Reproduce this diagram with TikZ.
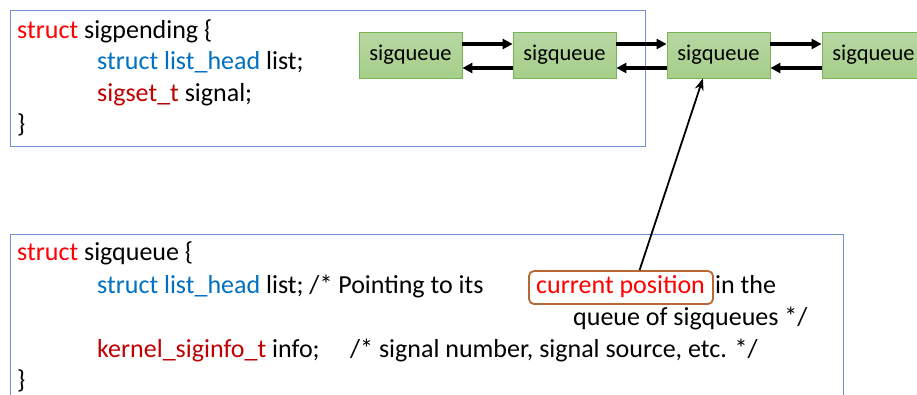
\documentclass[tikz,border=0pt]{standalone}
\usepackage{fontspec}
\setmainfont{Carlito}
\usetikzlibrary{arrows.meta,calc}
\definecolor{kwred}{RGB}{255,0,0}
\definecolor{kwblue}{RGB}{0,112,192}
\definecolor{kwdred}{RGB}{192,0,0}
\definecolor{frameblue}{RGB}{114,147,207}
\definecolor{qfill}{RGB}{165,206,137}
\definecolor{qfilltop}{RGB}{184,216,163}
\definecolor{qborder}{RGB}{122,180,84}
\definecolor{cpbrown}{RGB}{184,104,48}
\begin{document}
\begin{tikzpicture}[x=1pt,y=-1pt,
  txt/.style={anchor=base west,inner sep=0pt,font=\fontsize{26}{31}\selectfont},
  qbox/.style={draw=qborder,line width=0.8pt,top color=qfilltop,bottom color=qfill,minimum width=103pt,minimum height=46pt,inner sep=0pt,font=\fontsize{22.5}{27}\selectfont},
  frame/.style={draw=frameblue,line width=0.9pt},
  link/.style={line width=3.4pt,-{Triangle[length=10pt,width=10pt]}},
  cpbox/.style={draw=cpbrown,line width=1.8pt,rounded corners=5pt,minimum width=184pt,minimum height=33pt,inner sep=0pt}
]
\clip (0,0) rectangle (917,394);
\fill[white] (0,0) rectangle (917,394);
% frames
\draw[frame] (10,10) rectangle (645,146);
\draw[frame] (10,234) rectangle (843,420);
% top struct
\node[txt] (a1) at (17,38) {\textcolor{kwred}{struct} sigpending \{};
\node[txt] (a2) at (97,69.5) {\textcolor{kwblue}{struct list\_head} list;};
\node[txt] (a3) at (97,101) {\textcolor{kwdred}{sigset\_t} signal;};
\node[txt] (a4) at (17,132.5) {\}};
% queue
\node[qbox] (q1) at (410.5,55) {sigqueue};
\node[qbox] (q2) at (564.5,55) {sigqueue};
\node[qbox] (q3) at (718.5,55) {sigqueue};
\node[qbox] (q4) at (873.5,55) {sigqueue};
\foreach \s/\t in {q1/q2,q2/q3,q3/q4}{
  \draw[link] ($(\s.east)+(0,-11)$) -- ($(\t.west)+(0,-11)$);
  \draw[link] ($(\t.west)+(0,13)$) -- ($(\s.east)+(0,13)$);
}
% bottom struct
\node[txt] (b1) at (17,260) {\textcolor{kwred}{struct} sigqueue \{};
\node[txt] (b2) at (97,293) {\textcolor{kwblue}{struct list\_head} list; /* Pointing to its};
\node[cpbox] (cp) at (621,287.5) {};
\node[txt,text=kwred] (cpt) at (536,293) {current position};
\node[txt] (b2b) at (715,293) {in the};
\node[txt] (b3) at (573,325) {queue of sigqueues */};
\node[txt] (b4) at (97,357) {\textcolor{kwdred}{kernel\_siginfo\_t} info;};
\node[txt] (b4b) at (350,357) {/* signal number, signal source, etc. */};
\node[txt] (b5) at (17,388) {\}};
% pointer
\draw[line width=1.8pt,-{Stealth[length=12pt,width=9pt]}] ($(cp.north west)!0.6!(cp.north east)$) -- ($(q3.south west)!0.35!(q3.south east)$);
\end{tikzpicture}
\end{document}
